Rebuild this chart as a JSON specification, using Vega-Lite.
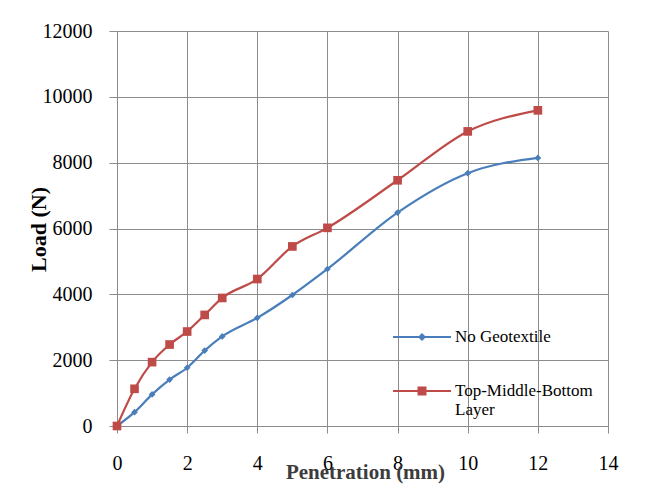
{
  "$schema": "https://vega.github.io/schema/vega-lite/v6.json",
  "autosize": {"type": "none"},
  "padding": {"left": 117, "top": 31, "right": 51, "bottom": 63},
  "width": 491,
  "height": 395,
  "background": "white",
  "config": {
    "view": {"stroke": null},
    "font": "Liberation Serif, serif",
    "axis": {
      "gridColor": "#8c8c8c",
      "gridOpacity": 1,
      "gridWidth": 1,
      "domainColor": "#8c8c8c",
      "tickColor": "#8c8c8c",
      "labelColor": "black",
      "labelFont": "Liberation Serif, serif",
      "labelFontSize": 20,
      "labelFlush": false,
      "titleFont": "Liberation Serif, serif",
      "titleColor": "black",
      "titleFontSize": 21,
      "titleFontWeight": "bold"
    },
    "legend": {"labelFont": "Liberation Serif, serif"}
  },
  "data": {
    "values": [
      {"pen": 0, "load": 0, "series": "No Geotextile"},
      {"pen": 0.5, "load": 420, "series": "No Geotextile"},
      {"pen": 1, "load": 960, "series": "No Geotextile"},
      {"pen": 1.5, "load": 1410, "series": "No Geotextile"},
      {"pen": 2, "load": 1770, "series": "No Geotextile"},
      {"pen": 2.5, "load": 2290, "series": "No Geotextile"},
      {"pen": 3, "load": 2720, "series": "No Geotextile"},
      {"pen": 4, "load": 3285, "series": "No Geotextile"},
      {"pen": 5, "load": 3980, "series": "No Geotextile"},
      {"pen": 6, "load": 4770, "series": "No Geotextile"},
      {"pen": 8, "load": 6485, "series": "No Geotextile"},
      {"pen": 10, "load": 7680, "series": "No Geotextile"},
      {"pen": 12, "load": 8145, "series": "No Geotextile"},
      {"pen": 0, "load": 0, "series": "Top-Middle-Bottom Layer"},
      {"pen": 0.5, "load": 1130, "series": "Top-Middle-Bottom Layer"},
      {"pen": 1, "load": 1940, "series": "Top-Middle-Bottom Layer"},
      {"pen": 1.5, "load": 2475, "series": "Top-Middle-Bottom Layer"},
      {"pen": 2, "load": 2870, "series": "Top-Middle-Bottom Layer"},
      {"pen": 2.5, "load": 3375, "series": "Top-Middle-Bottom Layer"},
      {"pen": 3, "load": 3890, "series": "Top-Middle-Bottom Layer"},
      {"pen": 4, "load": 4465, "series": "Top-Middle-Bottom Layer"},
      {"pen": 5, "load": 5455, "series": "Top-Middle-Bottom Layer"},
      {"pen": 6, "load": 6020, "series": "Top-Middle-Bottom Layer"},
      {"pen": 8, "load": 7465, "series": "Top-Middle-Bottom Layer"},
      {"pen": 10, "load": 8950, "series": "Top-Middle-Bottom Layer"},
      {"pen": 12, "load": 9590, "series": "Top-Middle-Bottom Layer"}
    ]
  },
  "encoding": {
    "x": {
      "field": "pen", "type": "quantitative",
      "scale": {"domain": [0, 14], "nice": false},
      "axis": {
        "values": [0, 2, 4, 6, 8, 10, 12, 14],
        "title": "Penetration (mm)",
        "tickSize": 7,
        "labelPadding": 20,
        "titleY": 52,
        "titleX": 248,
        "titleBaseline": "alphabetic",
        "titleFontSize": 21,
        "titleColor": "#3c3c3c"
      }
    },
    "y": {
      "field": "load", "type": "quantitative",
      "scale": {"domain": [0, 12000], "nice": false},
      "axis": {
        "values": [0, 2000, 4000, 6000, 8000, 10000, 12000],
        "format": "d",
        "title": "Load (N)",
        "tickSize": 8,
        "labelPadding": 17,
        "titleX": -79,
        "titleY": 198,
        "titleFontSize": 22,
        "titleBaseline": "middle"
      }
    },
    "color": {
      "field": "series", "type": "nominal",
      "scale": {"domain": ["No Geotextile", "Top-Middle-Bottom Layer"], "range": ["#4A7EBB", "#BE4B48"]},
      "legend": {
        "title": null,
        "orient": "none",
        "legendX": 276,
        "legendY": 277,
        "padding": 0,
        "rowPadding": 17,
        "symbolSize": 3364,
        "symbolStrokeWidth": 0,
        "symbolOpacity": 1,
        "labelFont": "Liberation Serif, serif",
        "labelFontSize": 17,
        "labelColor": "black",
        "labelOffset": 4,
        "labelLimit": 300,
        "labelBaseline": "middle",
        "labelExpr": "datum.label == 'Top-Middle-Bottom Layer' ? ['Top-Middle-Bottom', 'Layer'] : datum.label",
        "encode": {
          "symbols": {
            "update": {
              "shape": {"signal": "datum.value === 'No Geotextile' ? 'M-1,-0.035H1V0.035H-1Z M0,-0.14L0.14,0L0,0.14L-0.14,0Z' : 'M-1,-0.035H1V0.035H-1Z M-0.155,-0.155H0.155V0.155H-0.155Z'"},
              "strokeWidth": {"value": 0}
            }
          },
          "labels": {
            "update": {
              "font": {"value": "Liberation Serif"},
              "fontSize": {"value": 17},
              "lineHeight": {"value": 19}
            }
          }
        }
      }
    }
  },
  "layer": [
    {
      "mark": {"type": "line", "interpolate": "monotone", "strokeWidth": 2.2}
    },
    {
      "transform": [{"filter": "datum.series === 'No Geotextile'"}],
      "mark": {"type": "point", "filled": true, "opacity": 1, "shape": "diamond", "size": 45}
    },
    {
      "transform": [{"filter": "datum.series === 'Top-Middle-Bottom Layer'"}],
      "mark": {"type": "point", "filled": true, "opacity": 1, "shape": "square", "size": 75}
    }
  ]
}
